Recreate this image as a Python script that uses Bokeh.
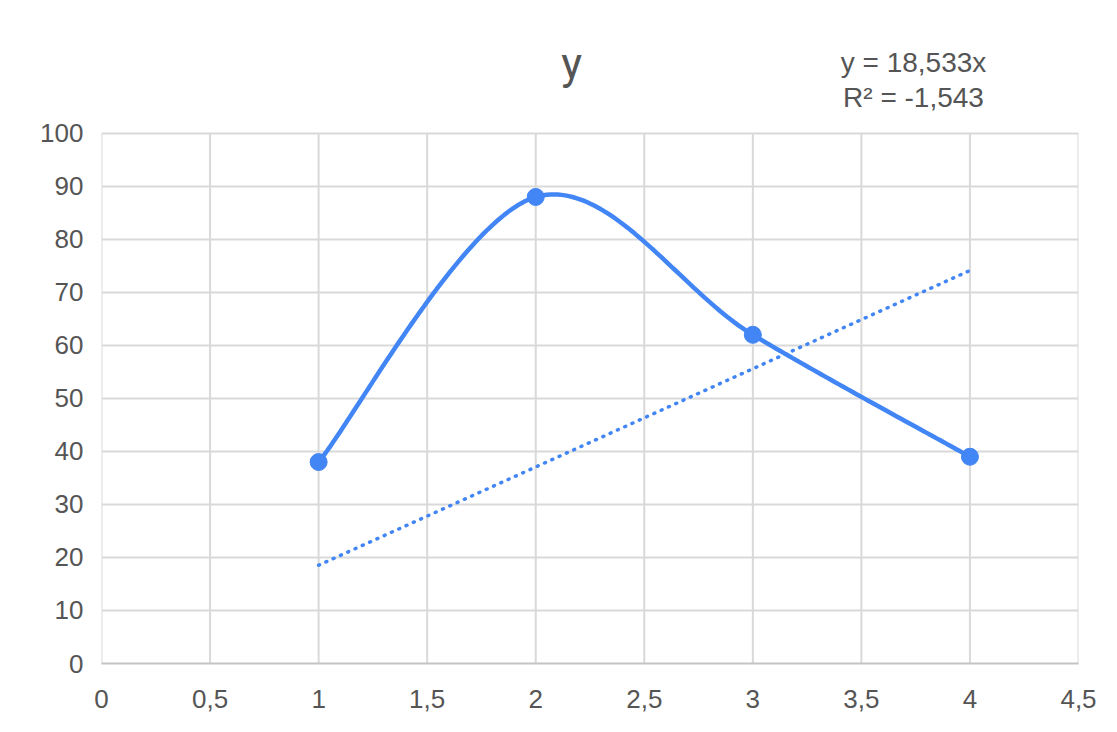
import numpy as np
from bokeh.plotting import figure
from bokeh.models import FixedTicker, Label, Range1d
from bokeh.embed import file_html
from bokeh.resources import INLINE

# ---- data ----
x_vals = [1, 2, 3, 4]
y_vals = [38, 88, 62, 39]
trend_slope = 18.533
trend_x = [1, 4]
x_ticks = [0, 0.5, 1, 1.5, 2, 2.5, 3, 3.5, 4, 4.5]
x_tick_labels = ["0", "0,5", "1", "1,5", "2", "2,5", "3", "3,5", "4", "4,5"]
y_ticks = [0, 10, 20, 30, 40, 50, 60, 70, 80, 90, 100]
y_tick_labels = ["0", "10", "20", "30", "40", "50", "60", "70", "80", "90", "100"]
title_text = "y"
eq_text = "y = 18,533x"
r2_text = "R² = -1,543"

BLUE = "#4285f4"
GRID = "#d9d9d9"
TXT = "#555555"
FONT = "Liberation Sans"

Y_MAX = 100
Y_TOP = 122.8  # extra room above the plot area for the title and equation

# smooth curve (Catmull-Rom -> cubic Bezier) through the data points
def smooth(xs, ys, n=60):
    P = np.column_stack([xs, ys]).astype(float)
    out = []
    m = len(P)
    for i in range(m - 1):
        p0 = P[i - 1] if i > 0 else P[i]
        p1 = P[i]
        p2 = P[i + 1]
        p3 = P[i + 2] if i + 2 < m else P[i + 1]
        c1 = p1 + (p2 - p0) / 6.0
        c2 = p2 - (p3 - p1) / 6.0
        t = np.linspace(0, 1, n)[:, None]
        seg = ((1 - t) ** 3) * p1 + 3 * t * (1 - t) ** 2 * c1 + 3 * t ** 2 * (1 - t) * c2 + t ** 3 * p2
        out.append(seg if i == 0 else seg[1:])
    S = np.vstack(out)
    return S[:, 0], S[:, 1]

sx, sy = smooth(x_vals, y_vals)

p = figure(width=1101, height=716, output_backend="svg", toolbar_location=None,
           x_range=Range1d(0, 4.5), y_range=Range1d(0, Y_TOP),
           min_border_left=101, min_border_right=23, min_border_top=12, min_border_bottom=53)
p.outline_line_color = None
p.background_fill_color = "white"
p.border_fill_color = "white"

# horizontal grid lines via the axis ticker; vertical ones limited to the plot area
p.ygrid.ticker = FixedTicker(ticks=y_ticks)
p.ygrid.grid_line_color = GRID
p.ygrid.grid_line_width = 2
p.xgrid.visible = False
p.segment(x0=x_ticks, y0=[0] * len(x_ticks), x1=x_ticks, y1=[Y_MAX] * len(x_ticks),
          line_color=GRID, line_width=2)

p.xaxis.ticker = FixedTicker(ticks=x_ticks)
p.yaxis.ticker = FixedTicker(ticks=y_ticks)
p.xaxis.major_label_overrides = {t: l for t, l in zip(x_ticks, x_tick_labels)}
p.yaxis.major_label_overrides = {t: l for t, l in zip(y_ticks, y_tick_labels)}

for ax in (p.xaxis, p.yaxis):
    ax.major_tick_line_color = None
    ax.minor_tick_line_color = None
    ax.major_label_text_font = FONT
    ax.major_label_text_font_size = "26px"
    ax.major_label_text_color = TXT
p.yaxis.axis_line_color = None
p.xaxis.axis_line_color = "#c4c4c4"
p.xaxis.axis_line_width = 2
p.xaxis.major_label_standoff = 20
p.yaxis.major_label_standoff = 12

# trendline
p.line(trend_x, [trend_slope * v for v in trend_x], line_color=BLUE, line_width=3.5,
       line_dash="1 7", line_cap="round")
# smooth series
p.line(sx, sy, line_color=BLUE, line_width=4.5)
p.scatter(x_vals, y_vals, size=17, fill_color=BLUE, line_color=BLUE)

p.add_layout(Label(x=2.165, y=113.0, text=title_text, text_font="Roboto", text_font_size="44px",
                   text_color=TXT, text_align="center", text_baseline="middle"))
p.add_layout(Label(x=3.74, y=113.4, text=eq_text, text_font=FONT, text_font_size="28px",
                   text_color=TXT, text_align="center", text_baseline="middle"))
p.add_layout(Label(x=3.74, y=106.8, text=r2_text, text_font=FONT, text_font_size="28px",
                   text_color=TXT, text_align="center", text_baseline="middle"))

open("out.html", "w").write(file_html(p, INLINE))
